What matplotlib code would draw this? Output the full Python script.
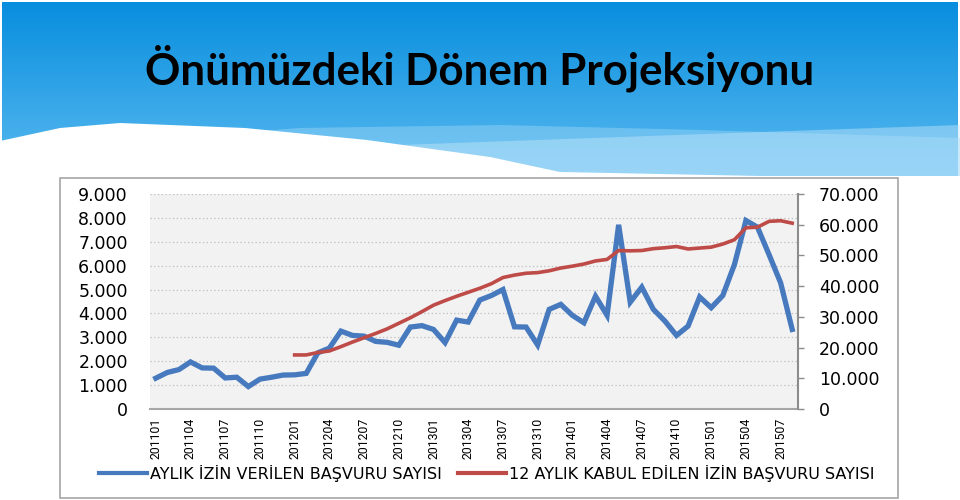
import numpy as np
import matplotlib
matplotlib.use("Agg")
import matplotlib.pyplot as plt
from matplotlib.lines import Line2D
from matplotlib.ticker import FuncFormatter, MultipleLocator

# ---------------- data ----------------
months = [f"{y}{m:02d}" for y in range(2011, 2016) for m in range(1, 13)][:56]  # 201101..201508
tick_labels = months[::3]

monthly_approved = [1290, 1530, 1650, 1970, 1720, 1710, 1300, 1330, 940, 1250, 1330, 1420,
                    1430, 1490, 2350, 2550, 3260, 3080, 3050, 2830, 2790, 2670, 3430, 3490,
                    3330, 2780, 3720, 3640, 4560, 4750, 5000, 3440, 3430, 2680, 4170, 4380,
                    3920, 3610, 4720, 3920, 7710, 4470, 5100, 4170, 3680, 3080, 3470, 4690,
                    4240, 4750, 6040, 7890, 7610, 6460, 5280, 3330]

rolling_12m = [None] * 12 + [17600, 17600, 18400, 18900, 20300, 21800, 23200, 24600, 26100, 27900,
                             29700, 31700, 33800, 35300, 36700, 38000, 39300, 40800, 42800, 43600,
                             44200, 44400, 45000, 45900, 46500, 47200, 48200, 48700, 51600, 51500,
                             51600, 52200, 52500, 52900, 52100, 52400, 52700, 53700, 55100, 59000,
                             59200, 61100, 61300, 60500]

series_names = ["AYLIK İZİN VERİLEN BAŞVURU SAYISI", "12 AYLIK KABUL EDİLEN İZİN BAŞVURU SAYISI"]
title = "Önümüzdeki Dönem Projeksiyonu"

BLUE = "#4679BD"
RED = "#BE4B48"
NARROW = ["Roboto", "DejaVu Sans"]

def tr_fmt(v, pos):
    v = int(round(v))
    return "0" if v == 0 else f"{v:,}".replace(",", ".")

# ---------------- figure ----------------
fig = plt.figure(figsize=(9.6, 5.0), dpi=100)
fig.patch.set_facecolor("white")

# background (header banner)
bg = fig.add_axes([0, 0, 1, 1], zorder=-5)
bg.set_xlim(0, 960)
bg.set_ylim(500, 0)
bg.axis("off")
grad = np.linspace(0, 1, 200)[:, None]
c_top = np.array([8, 142, 222]) / 255
c_bot = np.array([90, 186, 240]) / 255
img = c_top[None, None, :] * (1 - grad[:, :, None]) + c_bot[None, None, :] * grad[:, :, None]
img = np.repeat(img, 2, axis=1)
bg.imshow(img, extent=[2, 958, 178, 2], aspect="auto", zorder=0)

xx = np.linspace(0, 960, 400)
# lighter swooshes
sw1 = np.interp(xx, [0, 300, 500, 700, 960], [150, 128, 125, 130, 138])
bg.fill_between(xx, sw1, 180, color="#9ad6f7", alpha=0.45, zorder=1, lw=0)
sw2 = np.interp(xx, [0, 400, 650, 960], [172, 145, 136, 125])
bg.fill_between(xx, sw2, 180, color="#c4e7fb", alpha=0.45, zorder=1, lw=0)
# white wave
wave = np.interp(xx, [0, 60, 120, 245, 367, 490, 560, 960], [141, 128, 123, 128, 140, 157, 172, 180])
bg.fill_between(xx, wave, 182, color="white", zorder=2, lw=0)
bg.fill_between([0, 960], 176, 500, color="white", zorder=2, lw=0)

t = bg.text(480, 84, title, ha="center", va="baseline", fontsize=40, fontweight="bold",
            family=["Lato", "DejaVu Sans"], color="black", zorder=5)
# fit title width to the banner title width
fig.canvas.draw()
w = t.get_window_extent().width
t.set_fontsize(40 * 670 / w)

# chart box
box = plt.Rectangle((60, 178), 838, 320, facecolor="white", edgecolor="#a6a6a6", lw=1.2, zorder=3)
bg.add_patch(box)

# ---------------- chart ----------------
ax = fig.add_axes([150 / 960, 91 / 500, 648 / 960, 215 / 500])
ax.set_facecolor("#f2f2f2")
x = np.arange(len(months))
ax.plot(x, monthly_approved, color=BLUE, lw=3.8, solid_joinstyle="miter", zorder=3)
ax.set_xlim(-0.5, len(months) - 0.5)
ax.set_ylim(0, 9000)
ax.yaxis.set_major_locator(MultipleLocator(1000))
ax.yaxis.set_major_formatter(FuncFormatter(tr_fmt))
ax.grid(axis="y", linestyle=(0, (1, 2)), color="#bdbdbd", lw=0.9)
ax.set_axisbelow(True)
for s in ["left", "top", "right"]:
    ax.spines[s].set_visible(False)
ax.spines["bottom"].set_color("#a6a6a6")
ax.spines["bottom"].set_linewidth(1.5)
ax.tick_params(axis="y", length=0, pad=16, labelsize=12.5, labelcolor="black")
ax.set_xticks(x[::3])
ax.set_xticklabels(tick_labels, rotation=90, fontsize=8.8, family=NARROW)
ax.tick_params(axis="x", length=0, pad=6)

ax2 = ax.twinx()
xr = [i for i, v in enumerate(rolling_12m) if v is not None]
yr = [v for v in rolling_12m if v is not None]
ax2.plot(xr, yr, color=RED, lw=2.6, zorder=4)
ax2.set_ylim(0, 70000)
ax2.yaxis.set_major_locator(MultipleLocator(10000))
ax2.yaxis.set_major_formatter(FuncFormatter(tr_fmt))
for s in ["left", "top", "bottom"]:
    ax2.spines[s].set_visible(False)
ax2.spines["right"].set_color("#8c8c8c")
ax2.spines["right"].set_linewidth(1.5)
ax2.tick_params(axis="y", length=4, width=1, color="#8c8c8c", direction="out", pad=11,
                labelsize=12.5, labelcolor="black")

# legend
handles = [Line2D([], [], color=BLUE, lw=3), Line2D([], [], color=RED, lw=3)]
fig.legend(handles, series_names, loc="center", bbox_to_anchor=(487 / 960, 1 - 473 / 500),
           ncol=2, frameon=False, fontsize=11.5, handlelength=3.0, handletextpad=0.2,
           columnspacing=1.0)

fig.savefig("out.png", dpi=100)
